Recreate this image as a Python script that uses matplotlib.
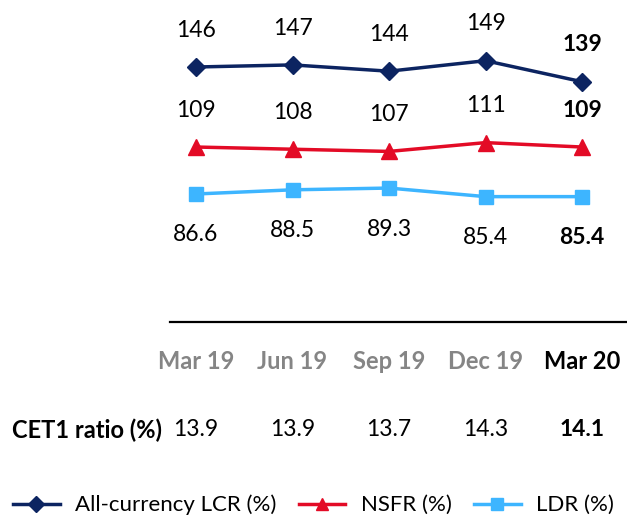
import matplotlib
matplotlib.use("Agg")
import matplotlib.pyplot as plt
from matplotlib.lines import Line2D

plt.rcParams['font.family'] = ['Lato', 'DejaVu Sans']

periods = ["Mar 19", "Jun 19", "Sep 19", "Dec 19", "Mar 20"]
lcr = [146, 147, 144, 149, 139]
nsfr = [109, 108, 107, 111, 109]
ldr = [86.6, 88.5, 89.3, 85.4, 85.4]
cet1 = [13.9, 13.9, 13.7, 14.3, 14.1]
lcr_labels = ["146", "147", "144", "149", "139"]
nsfr_labels = ["109", "108", "107", "111", "109"]
ldr_labels = ["86.6", "88.5", "89.3", "85.4", "85.4"]
cet1_labels = ["13.9", "13.9", "13.7", "14.3", "14.1"]

c_lcr = "#0C2461"
c_nsfr = "#E30B26"
c_ldr = "#3DB5FF"

W, H = 627, 519
fig = plt.figure(figsize=(W / 100, H / 100), dpi=100)

# axes area in pixels: x 170..627, y 0..322 from top
left, right, top, bottom = 170, 627, 0, 322
ax = fig.add_axes([left / W, 1 - bottom / H, (right - left) / W, (bottom - top) / H])
x = list(range(len(periods)))
xlim = (-26 / 96.5, 4 + 45 / 96.5)

axes_specs = [
    (lcr, lcr_labels, c_lcr, "D", 9, (24.6, 177.9), 26.5),
    (nsfr, nsfr_labels, c_nsfr, "^", 11, (29.5, 175.8), 26.5),
    (ldr, ldr_labels, c_ldr, "s", 10.5, (28.4, 174.8), -29.5),
]

axs = [ax, ax.twinx(), ax.twinx()]
for a, (vals, labs, col, mk, ms, ylim, off) in zip(axs, axes_specs):
    a.plot(x, vals, color=col, lw=2.5, marker=mk, ms=ms, zorder=3)
    a.set_ylim(*ylim)
    a.set_xlim(*xlim)
    for i, (v, lab) in enumerate(zip(vals, labs)):
        a.annotate(lab, (i, v), xytext=(0, off), textcoords="offset points",
                   ha="center", va="center", fontsize=16.5,
                   fontweight="bold" if i == len(vals) - 1 else "normal",
                   color="black")
    a.set_yticks([])
    for s in ["left", "right", "top", "bottom"]:
        a.spines[s].set_visible(False)

ax.spines["bottom"].set_visible(True)
ax.spines["bottom"].set_linewidth(1.6)
ax.spines["bottom"].set_color("black")
ax.set_xticks(x)
ax.set_xticklabels(periods)
for i, t in enumerate(ax.get_xticklabels()):
    t.set_fontsize(17)
    t.set_fontweight("bold")
    t.set_color("black" if i == len(periods) - 1 else "#858585")
ax.tick_params(axis="x", length=0, pad=20)

# CET1 row
trans = ax.get_xaxis_transform()
row_y = -(430 - bottom) / (bottom - top)
fig.text(12 / W, 1 - 430 / H, "CET1 ratio (%)", ha="left", va="center",
         fontsize=17, fontweight="bold")
for i, lab in enumerate(cet1_labels):
    ax.text(i, row_y, lab, transform=trans, ha="center", va="center", fontsize=16.5,
            fontweight="bold" if i == len(cet1_labels) - 1 else "normal", clip_on=False)

handles = [
    Line2D([], [], color=c_lcr, lw=2.5, marker="D", ms=8),
    Line2D([], [], color=c_nsfr, lw=2.5, marker="^", ms=9),
    Line2D([], [], color=c_ldr, lw=2.5, marker="s", ms=9),
]
fig.legend(handles, ["All-currency LCR (%)", "NSFR (%)", "LDR (%)"],
           loc="center", bbox_to_anchor=(0.5, 1 - 505 / H), ncol=3, frameon=False,
           fontsize=16, handlelength=2.1, columnspacing=1.0, handletextpad=0.7,
           borderpad=0, borderaxespad=0)

fig.savefig("out.png", dpi=100)
